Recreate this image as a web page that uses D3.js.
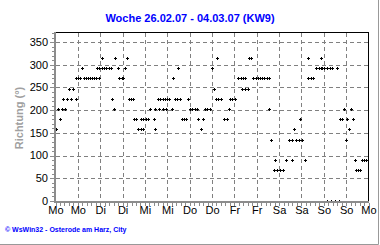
<!DOCTYPE html>
<html>
<head>
<meta charset="utf-8">
<script src="https://cdn.jsdelivr.net/npm/d3@7"></script>
<style>
  body { margin: 0; background: #fff; }
  svg { display: block; font-family: "Liberation Sans", Arial, sans-serif; }
</style>
</head>
<body>
<div id="chart"></div>
<script>
// Data: wind direction readings over the week (hours since Monday 00:00)
const dayLabels = ["Mo", "Mo", "Di", "Di", "Mi", "Mi", "Do", "Do", "Fr", "Fr", "Sa", "Sa", "So", "So", "Mo"];
const yTicks = [0, 50, 100, 150, 200, 250, 300, 350];

const hours = [
  0.0, 0.9, 2.3, 3.1, 3.9, 5.0, 6.1, 7.1, 8.2, 9.3, 10.6, 10.7, 11.6, 12.9, 14.1, 15.0,
  16.1, 17.2, 18.2, 19.3, 20.6, 21.6, 22.0, 23.2, 23.2, 24.5, 24.9, 25.8, 27.0, 28.3, 29.5, 30.2,
  31.3, 31.7, 33.1, 34.0, 35.2, 36.1, 37.0, 38.3, 39.0, 40.1, 41.2, 41.9, 43.1, 44.2, 45.5, 45.6,
  46.7, 46.9, 48.1, 49.2, 50.7, 52.6, 53.0, 53.1, 54.9, 55.3, 56.0, 57.3, 57.4, 58.3, 59.3, 59.4,
  60.7, 62.0, 63.0, 63.9, 65.1, 65.3, 66.4, 67.5, 68.7, 69.9, 71.0, 71.9, 73.2, 74.4, 75.8, 76.4,
  77.8, 79.1, 80.0, 81.2, 82.5, 83.9, 84.8, 85.9, 86.6, 87.1, 88.4, 90.3, 91.6, 93.0, 93.4, 94.6,
  95.9, 97.8, 99.1, 99.8, 100.2, 101.2, 101.4, 102.8, 103.6, 104.7, 105.9, 107.2, 108.3, 109.5, 110.7, 111.8,
  113.1, 114.3, 114.5, 115.4, 117.0, 117.5, 118.6, 120.2, 121.8, 123.6, 125.1, 126.5, 126.8, 127.9, 128.8, 130.4,
  131.0, 132.2, 133.6, 135.1, 135.4, 136.7, 137.8, 139.8, 140.9, 142.0, 142.0, 143.0, 144.1, 145.2, 145.7, 147.1,
  147.6, 148.4, 149.8, 150.6, 151.9, 152.6, 153.7, 154.4, 155.8, 156.4, 157.3, 158.2, 159.4, 160.3, 161.2, 162.1,
  163.0, 164.2, 165.3, 166.6
];

const directions = [
  157.5, 202.5, 180, 202.5, 225, 202.5, 225, 247.5, 225, 247.5, 270, 225, 270, 270, 292.5, 270,
  270, 270, 270, 270, 270, 270, 292.5, 270, 292.5, 292.5, 315, 292.5, 292.5, 292.5, 292.5, 225,
  202.5, 315, 292.5, 270, 270, 270, 292.5, 315, 225, 225, 225, 180, 180, 157.5, 157.5, 180,
  157.5, 180, 180, 180, 202.5, 180, 157.5, 202.5, 225, 202.5, 225, 225, 202.5, 225, 202.5, 225,
  225, 202.5, 270, 225, 225, 292.5, 225, 180, 180, 180, 225, 202.5, 202.5, 202.5, 202.5, 180,
  157.5, 180, 202.5, 202.5, 202.5, 292.5, 247.5, 225, 315, 225, 225, 180, 180, 202.5, 225, 225,
  225, 270, 270, 247.5, 270, 247.5, 270, 247.5, 315, 315, 270, 270, 270, 270, 270, 270,
  270, 270, 202.5, 135, 67.5, 90, 67.5, 67.5, 67.5, 90, 135, 135, 90, 157.5, 135, 135,
  180, 135, 90, 315, 270, 270, 270, 292.5, 292.5, 292.5, 315, 292.5, 292.5, 292.5, 0, 292.5,
  0, 292.5, 0, 292.5, 0, 180, 180, 202.5, 135, 180, 157.5, 202.5, 180, 90, 67.5, 67.5,
  67.5, 90, 90, 90
];

// Layout
const WIDTH = 380;
const HEIGHT = 245;
const LEFT = 56;
const RIGHT = 369;
const TOP = 33;
const BOTTOM = 201;
const GRID_COLOR = "#808080";
const AXIS_COLOR = "#8c8c8c";

const points = hours.map((h, i) => ({ h: h, v: directions[i] }));

const x = d3.scaleLinear().domain([0, 168]).range([LEFT, RIGHT]);
const y = d3.scaleLinear().domain([0, 370]).range([BOTTOM, TOP]);

const svg = d3
  .select("#chart")
  .append("svg")
  .attr("width", WIDTH)
  .attr("height", HEIGHT);

svg
  .append("rect")
  .attr("width", WIDTH)
  .attr("height", HEIGHT)
  .attr("fill", "#fff");

// Outer border (right and bottom only)
svg
  .append("path")
  .attr("d", "M378.5,0V244.5H0")
  .attr("fill", "none")
  .attr("stroke", "#999")
  .attr("stroke-width", 1);

// Title
svg
  .append("text")
  .attr("x", 190)
  .attr("y", 22)
  .attr("text-anchor", "middle")
  .attr("font-size", "11px")
  .attr("font-weight", "bold")
  .attr("fill", "#0000ff")
  .text("Woche 26.02.07 - 04.03.07 (KW9)");

// Grid
const grid = svg.append("g").attr("shape-rendering", "crispEdges");

grid
  .selectAll("line.h")
  .data(yTicks.filter(d => d > 0))
  .enter()
  .append("line")
  .attr("class", "h")
  .attr("x1", LEFT)
  .attr("x2", RIGHT)
  .attr("y1", d => Math.round(y(d)) + 0.5)
  .attr("y2", d => Math.round(y(d)) + 0.5)
  .attr("stroke", GRID_COLOR)
  .attr("stroke-dasharray", "4,3");

grid
  .selectAll("line.v")
  .data(d3.range(1, 14).map(i => i * 12))
  .enter()
  .append("line")
  .attr("class", "v")
  .attr("x1", d => Math.floor(x(d)) + 0.5)
  .attr("x2", d => Math.floor(x(d)) + 0.5)
  .attr("y1", TOP)
  .attr("y2", BOTTOM)
  .attr("stroke", GRID_COLOR)
  .attr("stroke-dasharray", "4,3");

// Points: small 3px crosses
svg
  .append("g")
  .attr("shape-rendering", "crispEdges")
  .selectAll("path")
  .data(points)
  .enter()
  .append("path")
  .attr("d", d => {
    let cx = Math.round(x(d.h));
    let cy = Math.round(y(d.v));
    return (
      "M" + (cx - 1) + "," + cy + "h3v1h-3z" +
      "M" + cx + "," + (cy - 1) + "h1v3h-1z"
    );
  })
  .attr("fill", "#000");

// Frame: black top and right, gray axes left and bottom
const frame = svg.append("g").attr("shape-rendering", "crispEdges");

frame
  .append("path")
  .attr("d", "M54," + (TOP - 0.5) + "H" + (RIGHT - 0.5) + "V" + (BOTTOM + 1))
  .attr("fill", "none")
  .attr("stroke", "#000");

frame
  .append("rect")
  .attr("x", 54)
  .attr("y", TOP - 1)
  .attr("width", 2)
  .attr("height", BOTTOM - TOP + 3)
  .attr("fill", AXIS_COLOR);

frame
  .append("rect")
  .attr("x", 54)
  .attr("y", BOTTOM)
  .attr("width", RIGHT - 54)
  .attr("height", 2)
  .attr("fill", AXIS_COLOR);

// Y ticks: minor every 10, major every 50
frame
  .selectAll("line.ytick")
  .data(d3.range(0, 371, 10))
  .enter()
  .append("line")
  .attr("class", "ytick")
  .attr("x1", d => (d % 50 === 0 ? 50 : 52))
  .attr("x2", 54)
  .attr("y1", d => Math.round(y(d)) + 0.5)
  .attr("y2", d => Math.round(y(d)) + 0.5)
  .attr("stroke", AXIS_COLOR);

// X ticks: five per half day
frame
  .selectAll("line.xtick")
  .data(d3.range(0, 71).map(i => i * 2.4))
  .enter()
  .append("line")
  .attr("class", "xtick")
  .attr("x1", d => Math.floor(x(d)) + 0.5)
  .attr("x2", d => Math.floor(x(d)) + 0.5)
  .attr("y1", BOTTOM + 2)
  .attr("y2", BOTTOM + 5)
  .attr("stroke", AXIS_COLOR);

// Y tick labels
svg
  .append("g")
  .selectAll("text")
  .data(yTicks)
  .enter()
  .append("text")
  .attr("x", 48)
  .attr("y", d => y(d))
  .attr("dy", "0.35em")
  .attr("text-anchor", "end")
  .attr("font-size", "11px")
  .attr("fill", "#000")
  .text(d => d);

// X tick labels (every 12 hours)
svg
  .append("g")
  .selectAll("text")
  .data(dayLabels)
  .enter()
  .append("text")
  .attr("x", (d, i) => x(i * 12))
  .attr("y", 214)
  .attr("text-anchor", "middle")
  .attr("font-size", "11px")
  .attr("fill", "#000")
  .text(d => d);

// Y axis title
svg
  .append("text")
  .attr("transform", "translate(23,118) rotate(-90)")
  .attr("text-anchor", "middle")
  .attr("font-size", "11px")
  .attr("font-weight", "bold")
  .attr("fill", "#a0a0a0")
  .text("Richtung (°)");

// Footer
svg
  .append("text")
  .attr("x", 5)
  .attr("y", 232)
  .attr("font-size", "7px")
  .attr("font-weight", "bold")
  .attr("fill", "#0000ff")
  .text("© WsWin32 - Osterode am Harz, City");
</script>
</body>
</html>
